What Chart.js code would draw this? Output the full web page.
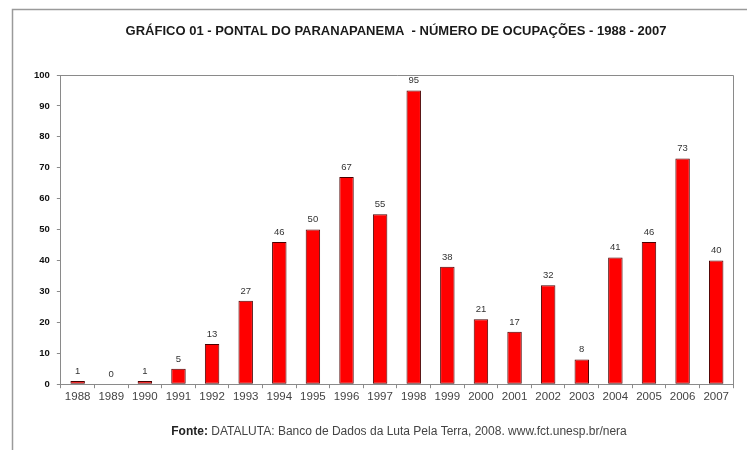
<!DOCTYPE html>
<html>
<head>
<meta charset="utf-8">
<script src="https://cdn.jsdelivr.net/npm/chart.js@4/dist/chart.umd.min.js"></script>
<style>
  html, body { margin: 0; padding: 0; background: #fff; }
  #wrap { width: 747px; height: 450px; position: relative; }
</style>
</head>
<body>
<div id="wrap"><canvas id="c" width="747" height="450"></canvas></div>
<script>
// data
const years = ["1988","1989","1990","1991","1992","1993","1994","1995","1996","1997",
               "1998","1999","2000","2001","2002","2003","2004","2005","2006","2007"];
const ocupacoes = [1, 0, 1, 5, 13, 27, 46, 50, 67, 55, 95, 38, 21, 17, 32, 8, 41, 46, 73, 40];
const yTicks = [0, 10, 20, 30, 40, 50, 60, 70, 80, 90, 100];

const TITLE = "GRÁFICO 01 - PONTAL DO PARANAPANEMA  - NÚMERO DE OCUPAÇÕES - 1988 - 2007";
const SRC_BOLD = "Fonte:";
const SRC_TEXT = " DATALUTA: Banco de Dados da Luta Pela Terra, 2008. www.fct.unesp.br/nera";

const FONT = "'Liberation Sans', Arial, sans-serif";
const AXIS = "#8a8a8a";

// frame, title, plot-box border, value labels, footer
const deco = {
  id: "deco",
  beforeDraw(chart) {
    const ctx = chart.ctx;
    ctx.save();
    ctx.strokeStyle = "#9a9a9a";
    ctx.lineWidth = 1.5;
    ctx.beginPath();
    ctx.moveTo(12.5, 450);
    ctx.lineTo(12.5, 9.5);
    ctx.lineTo(747, 9.5);
    ctx.stroke();
    ctx.restore();
  },
  afterDraw(chart) {
    const ctx = chart.ctx, a = chart.chartArea;
    ctx.save();
    ctx.strokeStyle = AXIS;
    ctx.lineWidth = 1;
    ctx.beginPath();
    ctx.moveTo(a.left, a.top + 0.5);
    ctx.lineTo(a.right + 0.5, a.top + 0.5);
    ctx.lineTo(a.right + 0.5, a.bottom);
    ctx.stroke();

    ctx.fillStyle = "#1a1a1a";
    ctx.font = "bold 13px " + FONT;
    ctx.textAlign = "center";
    ctx.textBaseline = "middle";
    ctx.fillText(TITLE, 396, 31);

    const meta = chart.getDatasetMeta(0);
    ctx.font = "9.5px " + FONT;
    ctx.fillStyle = "#333";
    ctx.textBaseline = "bottom";
    meta.data.forEach((bar, i) => {
      ctx.fillText(String(ocupacoes[i]), bar.x, bar.y - 5);
    });

    ctx.textAlign = "left";
    ctx.textBaseline = "middle";
    ctx.font = "bold 12px " + FONT;
    const w1 = ctx.measureText(SRC_BOLD).width;
    ctx.font = "12px " + FONT;
    const w2 = ctx.measureText(SRC_TEXT).width;
    const x0 = 399 - (w1 + w2) / 2;
    ctx.font = "bold 12px " + FONT;
    ctx.fillStyle = "#222";
    ctx.fillText(SRC_BOLD, x0, 432);
    ctx.font = "12px " + FONT;
    ctx.fillStyle = "#444";
    ctx.fillText(SRC_TEXT, x0 + w1, 432);
    ctx.restore();
  }
};

new Chart(document.getElementById("c"), {
  type: "bar",
  data: {
    labels: years,
    datasets: [{
      data: ocupacoes,
      backgroundColor: "#ff0000",
      borderColor: "#4a0000",
      borderWidth: 1,
      borderSkipped: false,
      barPercentage: 0.43,
      categoryPercentage: 1
    }]
  },
  options: {
    responsive: false,
    animation: false,
    layout: { padding: { top: 75, right: 14, bottom: 44, left: 27 } },
    plugins: { legend: { display: false }, tooltip: { enabled: false } },
    scales: {
      x: {
        grid: { drawOnChartArea: false, tickLength: 4, color: AXIS, offset: true },
        border: { color: AXIS },
        ticks: { color: "#444", font: { family: FONT, size: 11.5 }, maxRotation: 0, padding: 2 }
      },
      y: {
        min: 0, max: 100,
        afterBuildTicks(axis) { axis.ticks = yTicks.map(v => ({ value: v })); },
        grid: { drawOnChartArea: false, tickLength: 4, color: AXIS },
        border: { color: AXIS },
        ticks: { color: "#111", font: { family: FONT, size: 9.5, weight: "bold" }, padding: 7 }
      }
    }
  },
  plugins: [deco]
});
</script>
</body>
</html>
